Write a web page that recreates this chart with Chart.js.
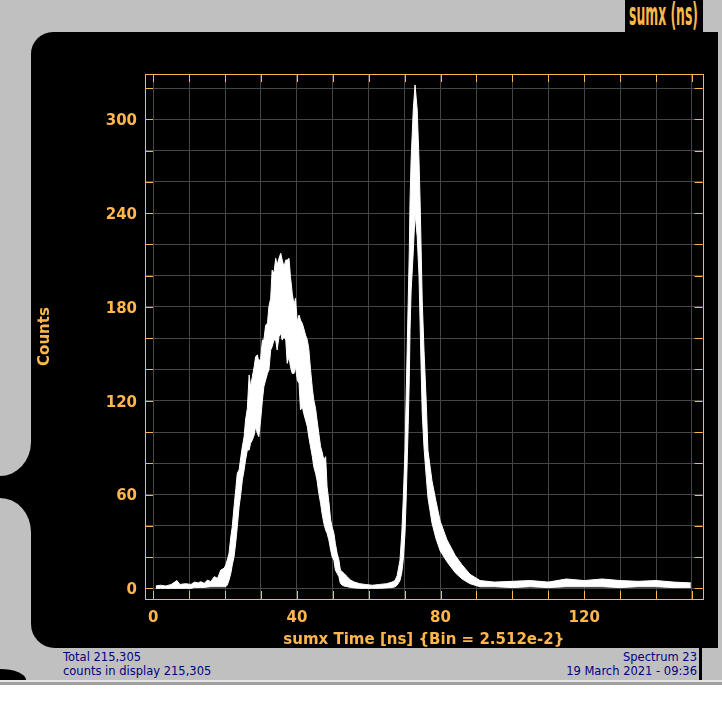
<!DOCTYPE html>
<html>
<head>
<meta charset="utf-8">
<script src="https://cdn.jsdelivr.net/npm/chart.js@4.4.1/dist/chart.umd.min.js"></script>
<style>
body { margin:0; background:#fff; width:722px; height:703px; overflow:hidden; position:relative; font-family:"DejaVu Sans", sans-serif; }
.abs { position:absolute; }
.foot { position:absolute; color:#000080; font-size:11.5px; line-height:14px; white-space:nowrap; }
#title { position:absolute; left:625px; top:0; width:78px; height:32px; background:#000; overflow:hidden; }
#title span { position:absolute; left:4px; top:-2px; color:#ffb74d; font-family:"DejaVu Sans Condensed","DejaVu Sans",sans-serif; font-weight:bold; font-size:28px; line-height:34px; transform-origin:0 50%; white-space:nowrap; }
#myChart { position:absolute; left:0; top:0; }
</style>
</head>
<body>
<div class="abs" style="left:0;top:0;width:722px;height:680px;background:#c0c0c0"></div>
<div class="abs" style="left:0;top:680px;width:722px;height:2px;background:#e6e6e6"></div>
<div class="abs" style="left:0;top:682px;width:722px;height:3px;background:#a0a0a0"></div>
<div class="abs" style="left:0;top:440px;width:40px;height:100px;background:#000"></div>
<div class="abs" style="left:0;top:0;width:31px;height:476px;background:#c0c0c0;border-bottom-right-radius:31px 34px"></div>
<div class="abs" style="left:0;top:498px;width:31px;height:170px;background:#c0c0c0;border-top-right-radius:31px 34px"></div>
<div class="abs" style="left:0;top:669px;width:26px;height:11px;background:#000;border-top-right-radius:26px 11px"></div>
<div class="abs" style="left:31px;top:32px;width:687px;height:616px;background:#000;border-radius:22px 0 0 24px"></div>
<div class="abs" style="left:699px;top:648px;width:3px;height:32px;background:#000"></div>
<div id="title"><span>sumx (ns)</span></div>
<div class="foot" style="left:63px;top:650px">Total 215,305<br>counts in display 215,305</div>
<div class="foot" style="right:25px;top:650px;text-align:right">Spectrum 23<br>19 March 2021 - 09:36</div>
<canvas id="myChart" width="722" height="703"></canvas>
<script>
// values: time (ns), top and bottom of the white band (counts)
const times = [0.7, 2, 3.5, 5, 6.6, 7.4, 9, 10.5, 11.5, 12.5, 13.2, 14.2, 15.1, 16.0, 17.0, 17.9, 18.8, 19.7,
  20.2, 20.6, 21.1, 21.6, 22.0, 22.5, 23.0, 23.4, 23.9, 24.4, 24.8, 25.3, 25.7, 26.2, 26.7, 27.1, 27.6, 28.1, 28.5, 29.0,
  29.4, 29.9, 30.4, 30.8, 31.3, 31.8, 32.2, 32.7, 33.1, 33.6, 34.1, 34.5, 35.0, 35.5, 35.9, 36.4, 36.9, 37.3, 37.8, 38.2,
  38.7, 39.2, 39.6, 40.1, 40.6, 41.0, 41.5, 41.9, 42.4, 42.9, 43.3, 43.8, 44.3, 44.7, 45.2, 45.6, 46.1, 46.6, 47.0, 47.5,
  48.0, 48.4, 48.9, 49.4, 49.8, 50.3, 50.7, 51.2, 51.7, 52.1, 52.6, 53.1, 54.0, 54.9,
  56, 57.5, 59, 61, 63, 65, 66.5, 67.3,
  67.9, 68.7, 69.2, 69.6, 70.1, 70.4, 70.7, 71.0, 71.3, 71.5, 71.8, 72.4, 72.9, 73.5, 74.0, 74.3, 74.6, 74.9, 75.4, 76.0,
  76.5, 77.6, 78.7, 79.9, 81.8, 84.1, 86.0, 88.2,
  91, 95, 100, 105, 110, 115, 120, 125, 130, 135, 140, 145, 149.7];
const upper = [1.5, 2, 1.5, 2.5, 5, 2.5, 3, 2.5, 4, 3.5, 4.3, 3.2, 5.3, 4.3, 7.5, 6.4, 11.7, 12.8,
  14.9, 18.1, 22.4, 33.0, 39.4, 52.2, 64.0, 73.6, 75.7, 84.2, 90.6, 97.0, 107.7, 115.1, 136.5, 129.0, 135.4, 141.8, 148.2, 149.3,
  145.0, 147.1, 158.8, 158.8, 168.4, 169.5, 180.2, 185.5, 203.6, 201.5, 211.1, 206.8, 211.1, 214.3, 210.0, 205.8, 210.0, 210.0, 211.1, 199.4,
  188.7, 181.2, 185.5, 170.6, 174.8, 171.6, 169.5, 166.3, 162.0, 158.8, 153.5, 139.7, 127.9, 120.5, 115.1, 107.7, 99.1, 90.6, 87.4, 82.1,
  84.2, 65.0, 55.4, 43.7, 39.4, 35.2, 28.8, 22.4, 18.1, 11.7, 10.7, 9.6, 7.5, 5.3,
  4, 3, 2.5, 2, 2.5, 3, 4, 5,
  8, 18, 35, 56, 88, 120, 152, 184, 216, 248, 274, 306, 322, 306, 274, 248, 216, 184, 152, 120,
  88, 69, 56, 43, 31, 21, 15, 9,
  5, 4, 4.5, 5, 4, 6, 5, 6, 5, 4.5, 5, 4, 3.5];
const lower = [0, 0, 0, 0, 0, 0, 0, 0, 0.5, 0.5, 0.6, 0.6, 0.8, 1, 1, 1, 1, 1,
  1.1, 2.1, 5.3, 9.6, 14.9, 20.3, 29.9, 39.4, 52.2, 60.8, 69.3, 75.7, 82.1, 88.5, 88.5, 92.8, 94.9, 98.1, 103.4, 99.1,
  97.0, 107.7, 120.5, 129.0, 133.3, 137.5, 139.7, 152.5, 154.6, 158.8, 158.8, 152.5, 161.0, 163.1, 158.8, 161.0, 158.8, 143.9, 148.2, 141.8,
  137.5, 137.5, 141.8, 133.3, 131.1, 114.1, 116.2, 111.9, 107.7, 103.4, 97.0, 90.6, 84.2, 77.8, 73.6, 69.3, 60.8, 54.4, 48.0, 41.6,
  37.3, 35.2, 30.9, 24.5, 20.3, 18.1, 11.7, 9.6, 7.5, 3.2, 2.1, 1.5, 1.1, 0.6,
  0.3, 0, 0, 0, 0, 0.3, 0.5, 1,
  2, 5, 10, 18, 35, 55, 80, 105, 135, 165, 190, 215, 240, 225, 200, 170, 140, 112, 90, 72,
  58, 42, 32, 24, 17, 10, 6, 3,
  1, 1, 0.5, 1, 0.5, 1, 1, 1, 0.5, 1, 1, 0.5, 0.5];
const xTickLabels = [0, 40, 80, 120];
const yTickLabels = [0, 60, 120, 180, 240, 300];

const orange = '#ffb74d';
const gridGray = '#464646';
const tickFont = { family: 'DejaVu Sans', size: 15, weight: 'bold' };

// squeeze the corner title into its box
const t = document.querySelector('#title span');
const sx = 69 / t.getBoundingClientRect().width;
t.style.transform = 'scale(' + sx + ', 1.12)';

// orange frame with tick marks on all four sides
const framePlugin = {
  id: 'frame',
  afterDatasetsDraw(chart) {
    const { ctx, chartArea: a, scales } = chart;
    ctx.save();
    ctx.strokeStyle = orange;
    ctx.lineWidth = 1;
    ctx.beginPath();
    scales.x.ticks.forEach(tk => {
      const px = Math.round(scales.x.getPixelForValue(tk.value)) + 0.5;
      ctx.moveTo(px, a.top); ctx.lineTo(px, a.top + 8);
      ctx.moveTo(px, a.bottom); ctx.lineTo(px, a.bottom - 8);
    });
    scales.y.ticks.forEach(tk => {
      const py = Math.round(scales.y.getPixelForValue(tk.value)) + 0.5;
      ctx.moveTo(a.left, py); ctx.lineTo(a.left + 8, py);
      ctx.moveTo(a.right, py); ctx.lineTo(a.right - 8, py);
    });
    ctx.stroke();
    ctx.strokeRect(Math.round(a.left) + 0.5, Math.round(a.top) + 0.5,
      Math.round(a.right - a.left), Math.round(a.bottom - a.top));
    ctx.restore();
  }
};

new Chart(document.getElementById('myChart'), {
  type: 'line',
  data: {
    datasets: [{
      data: times.map((x, i) => ({ x: x, y: upper[i] })),
      borderColor: '#ffffff',
      backgroundColor: '#ffffff',
      borderWidth: 1,
      pointRadius: 0,
      fill: '+1'
    }, {
      data: times.map((x, i) => ({ x: x, y: lower[i] })),
      borderColor: '#ffffff',
      borderWidth: 1,
      pointRadius: 0,
      fill: false
    }]
  },
  options: {
    responsive: false,
    animation: false,
    layout: { padding: { left: 0, top: 74, right: 19.3, bottom: 0 } },
    plugins: { legend: { display: false }, tooltip: { enabled: false } },
    scales: {
      x: {
        type: 'linear',
        min: -2.3,
        max: 153,
        afterFit: s => { s.height = 104 },
        grid: { color: gridGray, drawTicks: false },
        border: { display: false },
        ticks: {
          stepSize: 10,
          includeBounds: false,
          padding: 10,
          color: orange,
          font: tickFont,
          maxRotation: 0,
          autoSkip: false,
          callback: v => xTickLabels.includes(v) ? String(v) : ''
        },
        title: {
          display: true,
          text: 'sumx Time [ns] {Bin = 2.512e-2}',
          color: orange,
          font: tickFont,
          padding: { top: 0, bottom: 54 }
        }
      },
      y: {
        min: -6.8,
        max: 329,
        afterFit: s => { s.width = 145 },
        grid: { color: gridGray, drawTicks: false },
        border: { display: false },
        ticks: {
          stepSize: 20,
          includeBounds: false,
          padding: 8,
          labelOffset: 2,
          color: orange,
          font: tickFont,
          autoSkip: false,
          callback: v => yTickLabels.includes(v) ? String(v) : ''
        },
        title: {
          display: true,
          text: 'Counts',
          color: orange,
          font: tickFont,
          padding: { top: 36, bottom: 0 }
        }
      }
    }
  },
  plugins: [framePlugin]
});
</script>
</body>
</html>
